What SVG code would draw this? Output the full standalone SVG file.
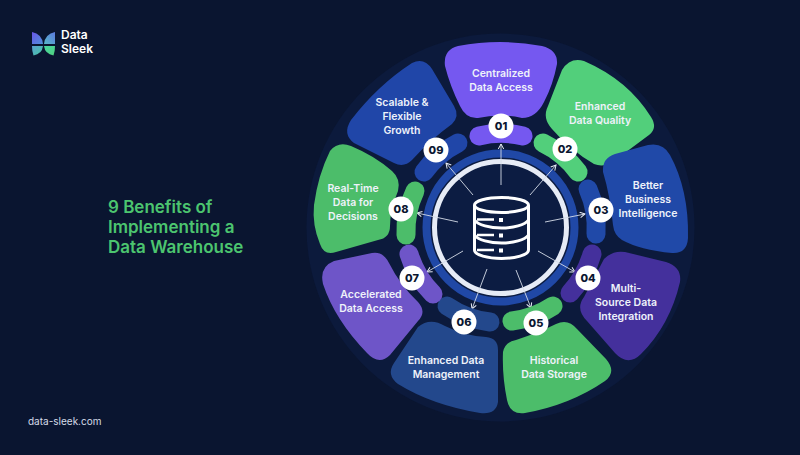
<svg xmlns="http://www.w3.org/2000/svg" width="800" height="455" viewBox="0 0 800 455">
<style>
.t{font-family:Inter,"Liberation Sans",sans-serif;font-weight:600;font-size:10.5px;fill:#eef2fa;text-anchor:middle}
.n{font-family:Inter,"Liberation Sans",sans-serif;font-weight:800;font-size:11px;fill:#0a1630;text-anchor:middle}
.b{fill:#fff}
.p{fill:none;stroke-width:19;stroke-linecap:round}
.h{font-family:Inter,"Liberation Sans",sans-serif;font-weight:600;font-size:17px;fill:#4cc56f}
.a{fill:none;stroke:#d5dbe8;stroke-width:.9;marker-end:url(#ah)}
.d{fill:none;stroke:#fff;stroke-width:3}
.l{font-family:Inter,"Liberation Sans",sans-serif;font-weight:600;font-size:12px;fill:#fff}
</style>
<defs>
<marker id="ah" markerWidth="8" markerHeight="8" refX="6" refY="3.5" orient="auto" markerUnits="userSpaceOnUse"><path d="M1,.8L6,3.5L1,6.2" fill="none" stroke="#e8ecf4" stroke-width="1"/></marker>
<linearGradient id="l1" x1="0" y1="0" x2="1" y2="1"><stop offset="0" stop-color="#6a55e8"/><stop offset="1" stop-color="#4f8fd8"/></linearGradient>
<linearGradient id="l2" x1="1" y1="0" x2="0" y2="1"><stop offset="0" stop-color="#5b78e0"/><stop offset="1" stop-color="#58b8c8"/></linearGradient>
<linearGradient id="l3" x1="0" y1="0" x2="1" y2="1"><stop offset="0" stop-color="#5aa0d0"/><stop offset="1" stop-color="#45c8a0"/></linearGradient>
<linearGradient id="l4" x1="0" y1="0" x2="1" y2="1"><stop offset="0" stop-color="#48d8a0"/><stop offset="1" stop-color="#50d080"/></linearGradient>
</defs>
<rect width="800" height="455" fill="#0a1530"/>
<g id="logo">
<path d="M32 32Q42 34 43 44L32 44Z" fill="url(#l1)"/>
<path d="M55 32Q45 34 44 44L55 44Z" fill="url(#l2)"/>
<path d="M32 46H43Q42 54 33.500 55.500Q32 52 32 46Z" fill="url(#l3)"/>
<path d="M55 46H44Q45 54 53.500 55.500Q55 52 55 46Z" fill="url(#l4)"/>
<text class="l" x="61" y="39">Data</text>
<text class="l" x="61" y="53">Sleek</text>
</g>
<g id="title">
<text class="h" x="108" y="213">9 Benefits of</text>
<text class="h" x="108" y="233">Implementing a</text>
<text class="h" x="108" y="253">Data Warehouse</text>
</g>
<text id="footer" x="28" y="425" style="font-family:Inter,'Liberation Sans',sans-serif;font-size:10px;fill:#d5dbe8">data-sleek.com</text>
<circle id="disc" cx="500.500" cy="227.500" r="194" fill="#0c1a3c"/>
<g id="hub">
<circle cx="500.500" cy="227.500" r="74" fill="#0c1c42" stroke="#2048a6" stroke-width="8"/>
<circle cx="500.500" cy="227.500" r="66" fill="#0c1c42" stroke="#e6ebf6" stroke-width="5"/>
<ellipse class="d" cx="501.500" cy="205" rx="27" ry="7.500"/>
<path class="d" d="M474.500 205V250C474.500 255 488 258.500 501.500 258.500S528.500 255 528.500 250V205"/>
<path class="d" d="M474.500 220C478 225 490 228 501.500 228S525 225 528.500 220"/>
<path class="d" d="M474.500 235C478 240 490 243 501.500 243S525 240 528.500 235"/>
<path d="M477 219.500H494M477 235H494M477 250H494" fill="none" stroke="#fff" stroke-width="2.500"/>
<path d="M499 218h4v4h-4zM499 233.500h4v4h-4zM499 248.500h4v4h-4z" fill="#fff"/>
</g>
<g id="connectors">
<path class="a" d="M501 185V144"/>
<path class="a" d="M530 195L556 165"/>
<path class="a" d="M545 222L585 214"/>
<path class="a" d="M538 251L575 272"/>
<path class="a" d="M516 270L531 308"/>
<path class="a" d="M487 269L472 309"/>
<path class="a" d="M463 251L427 272"/>
<path class="a" d="M458 222L417 213"/>
<path class="a" d="M473 195L446 163"/>
</g>
<g id="node-01">
<path d="M458 46Q500 38 542 46Q558 50 557 64Q553 85 544 102Q536 118 522 118Q500 113 478 118Q466 119 460 106Q450 86 445 66Q443 50 458 46Z" fill="#7558f0"/>
<path class="p" d="M479 136A93.600 93.600 0 0 1 523 136" stroke="#7558f0"/>
<text class="t" x="501" y="77">Centralized</text><text class="t" x="501" y="91">Data Access</text>
<circle class="b" cx="501" cy="126" r="12.500"/><text class="n" x="501" y="130">01</text>
</g>
<g id="node-02">
<path d="M562 70Q570 57 584 61Q628 80 651 117Q658 128 649 135L614 161Q604 168 594 164Q570 150 552 129Q542 118 548 106Z" fill="#52cf7b"/>
<path class="p" d="M543 143A95 95 0 0 1 578 172" stroke="#52cf7b"/>
<text class="t" x="600" y="110">Enhanced</text><text class="t" x="600" y="124">Data Quality</text>
<circle class="b" cx="565" cy="149" r="12.500"/><text class="n" x="565" y="153">02</text>
</g>
<g id="node-03">
<path d="M603 172Q602 158 615 154L648 145Q663 142 670 155Q689 190 688 238Q687 254 672 253Q640 250 622 240Q614 235 613 225Q610 195 603 172Z" fill="#2049a8"/>
<path class="p" d="M588 189A95.500 95.500 0 0 1 596 234" stroke="#2049a8"/>
<text class="t" x="648" y="189">Better</text><text class="t" x="648" y="203">Business</text><text class="t" x="648" y="217">Intelligence</text>
<circle class="b" cx="601" cy="210" r="12.500"/><text class="n" x="601" y="214">03</text>
</g>
<g id="node-04">
<path d="M604 259Q613 250 625 252L666 262Q682 267 680 282Q670 325 641 354Q628 367 615 353L587 321Q575 309 584 297Z" fill="#44309c"/>
<path class="p" d="M592 254A95 95 0 0 1 570 293" stroke="#44309c"/>
<text class="t" x="626" y="292">Multi-</text><text class="t" x="626" y="306">Source Data</text><text class="t" x="626" y="320">Integration</text>
<circle class="b" cx="588" cy="278" r="12.500"/><text class="n" x="588" y="282">04</text>
</g>
<g id="node-05">
<path d="M516 340Q540 332 556 324Q568 318 577 329L606 359Q617 372 605 381Q570 405 525 413Q510 415 507 400Q502 375 503 352Q505 342 516 340Z" fill="#4cbd6a"/>
<path class="p" d="M553 306A94.300 94.300 0 0 1 512 321" stroke="#4cbd6a"/>
<text class="t" x="554" y="364">Historical</text><text class="t" x="554" y="378">Data Storage</text>
<circle class="b" cx="536" cy="323" r="12.500"/><text class="n" x="536" y="327">05</text>
</g>
<g id="node-06">
<path d="M418 327Q430 317 445 326Q465 336 486 337Q498 338 498 350L498 402Q496 415 480 413Q432 405 398 384Q386 375 394 363Z" fill="#23488c"/>
<path class="p" d="M490 322A95 95 0 0 1 447 306" stroke="#23488c"/>
<text class="t" x="446" y="364">Enhanced Data</text><text class="t" x="446" y="378">Management</text>
<circle class="b" cx="464" cy="322" r="12.500"/><text class="n" x="464" y="326">06</text>
</g>
<g id="node-07">
<path d="M334 261L372 253Q383 251 389 263Q400 285 418 302Q427 312 418 321L390 355Q379 366 367 353Q335 320 323 284Q319 267 334 261Z" fill="#6e55c8"/>
<path class="p" d="M433 294A95 95 0 0 1 409 254" stroke="#6e55c8"/>
<text class="t" x="371" y="298">Accelerated</text><text class="t" x="371" y="312">Data Access</text>
<circle class="b" cx="412" cy="278" r="12.500"/><text class="n" x="412" y="282">07</text>
</g>
<g id="node-08">
<path d="M330 151Q338 141 351 146Q375 156 392 171Q401 179 398 191Q390 210 390 226Q390 238 378 240L336 252Q324 256 320 244Q312 225 314 205Q318 175 330 151Z" fill="#4cbd6a"/>
<path class="p" d="M406 235A94 94 0 0 1 415 191" stroke="#4cbd6a"/>
<text class="t" x="353" y="192">Real-Time</text><text class="t" x="353" y="206">Data for</text><text class="t" x="353" y="220">Decisions</text>
<circle class="b" cx="401" cy="209" r="12.500"/><text class="n" x="401" y="213">08</text>
</g>
<g id="node-09">
<path d="M351 120Q378 85 412 63Q424 57 432 69L454 106Q460 116 452 124Q430 140 412 160Q404 168 394 163L354 143Q342 134 351 120Z" fill="#2046a8"/>
<path class="p" d="M424 172A94.500 94.500 0 0 1 458 143" stroke="#2046a8"/>
<text class="t" x="402" y="106">Scalable &amp;</text><text class="t" x="402" y="120">Flexible</text><text class="t" x="402" y="134">Growth</text>
<circle class="b" cx="436" cy="150" r="12.500"/><text class="n" x="436" y="154">09</text>
</g>
</svg>
